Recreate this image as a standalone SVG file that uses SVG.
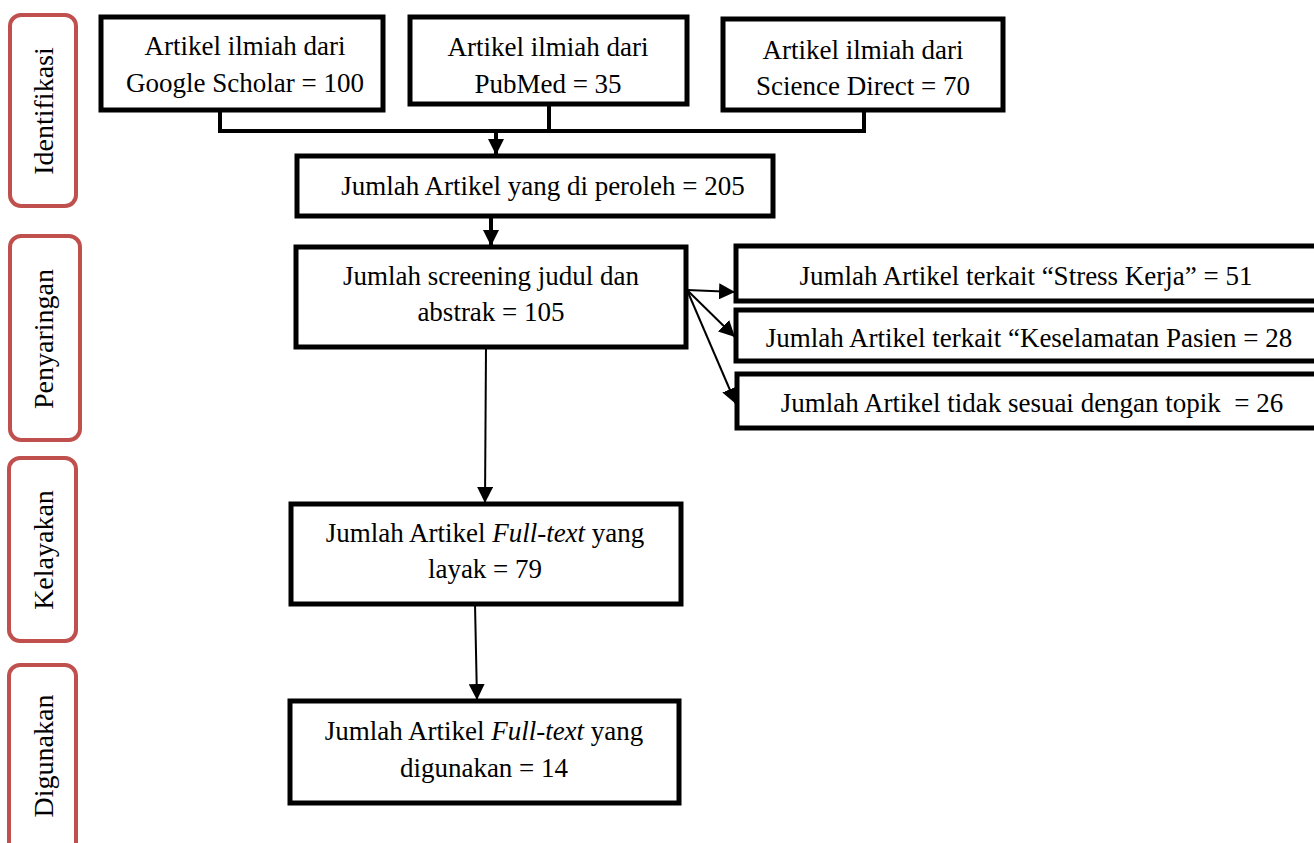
<svg xmlns="http://www.w3.org/2000/svg" width="1314" height="843" viewBox="0 0 1314 843">
<defs>
<style>
.box{fill:#fff;stroke:#000;stroke-width:5}
.side{fill:#fff;stroke:#C0504D;stroke-width:4}
.t{font-family:"Liberation Serif","Times New Roman",serif;font-size:27px;fill:#000;text-anchor:middle}
.s{font-family:"Liberation Serif","Times New Roman",serif;font-size:28px;fill:#000;text-anchor:middle}
.thick{fill:none;stroke:#000;stroke-width:4}
.thin{fill:none;stroke:#000;stroke-width:2}
</style>
<marker id="ah" viewBox="0 0 10 10" refX="10" refY="5" markerWidth="8" markerHeight="8" markerUnits="userSpaceOnUse" orient="auto">
<path d="M0,0 L10,5 L0,10 z" fill="#000"/>
</marker>
<marker id="ah2" viewBox="0 0 10 10" refX="10" refY="5" markerWidth="16" markerHeight="16" markerUnits="userSpaceOnUse" orient="auto">
<path d="M0,0 L10,5 L0,10 z" fill="#000"/>
</marker>
</defs>
<rect width="1314" height="843" fill="#fff"/>

<g id="stage-identifikasi">
<rect class="side" x="10" y="15" width="66" height="191" rx="11"/>
<text class="s" transform="translate(53,111) rotate(-90)">Identifikasi</text>
</g>
<g id="stage-penyaringan">
<rect class="side" x="10" y="236" width="70" height="204" rx="11"/>
<text class="s" transform="translate(53,339) rotate(-90)">Penyaringan</text>
</g>
<g id="stage-kelayakan">
<rect class="side" x="9" y="458" width="67" height="183" rx="11"/>
<text class="s" transform="translate(53,550) rotate(-90)">Kelayakan</text>
</g>
<g id="stage-digunakan">
<rect class="side" x="9" y="665" width="67" height="200" rx="11"/>
<text class="s" transform="translate(53,756) rotate(-90)">Digunakan</text>
</g>

<g id="connectors">
<path class="thick" d="M220,110 V131 H864 V110"/>
<path class="thick" d="M549,104 V131"/>
<path class="thick" d="M496,131 V155" marker-end="url(#ah2)"/>
<path class="thick" d="M491,217 V246" marker-end="url(#ah2)"/>
<path class="thin" d="M687,290 L735,292" marker-end="url(#ah2)"/>
<path class="thin" d="M687,290 L735,337" marker-end="url(#ah2)"/>
<path class="thin" d="M687,290 L736,404" marker-end="url(#ah2)"/>
<path class="thin" d="M486,347 L485,503" marker-end="url(#ah2)"/>
<path class="thin" d="M475,604 L477,700" marker-end="url(#ah2)"/>
</g>

<g id="node-google">
<rect class="box" x="101" y="17" width="282" height="93"/>
<text class="t" x="245" y="55">Artikel ilmiah dari</text>
<text class="t" x="245" y="92">Google Scholar = 100</text>
</g>
<g id="node-pubmed">
<rect class="box" x="410" y="17" width="277" height="87"/>
<text class="t" x="548" y="56">Artikel ilmiah dari</text>
<text class="t" x="548" y="93">PubMed = 35</text>
</g>
<g id="node-sciencedirect">
<rect class="box" x="723" y="19" width="280" height="91"/>
<text class="t" x="863" y="59">Artikel ilmiah dari</text>
<text class="t" x="863" y="95">Science Direct = 70</text>
</g>
<g id="node-total">
<rect class="box" x="297" y="156" width="476" height="60"/>
<text class="t" x="543" y="195">Jumlah Artikel yang di peroleh = 205</text>
</g>
<g id="node-screening">
<rect class="box" x="296" y="247" width="390" height="100"/>
<text class="t" x="491" y="285">Jumlah screening judul dan</text>
<text class="t" x="491" y="321">abstrak = 105</text>
</g>
<g id="node-stress">
<rect class="box" x="736" y="246" width="590" height="55"/>
<text class="t" x="1026" y="285">Jumlah Artikel terkait “Stress Kerja” = 51</text>
</g>
<g id="node-keselamatan">
<rect class="box" x="736" y="310" width="590" height="51"/>
<text class="t" x="1029" y="347">Jumlah Artikel terkait “Keselamatan Pasien = 28</text>
</g>
<g id="node-tidak">
<rect class="box" x="737" y="374" width="590" height="54"/>
<text class="t" x="1032" y="412" xml:space="preserve">Jumlah Artikel tidak sesuai dengan topik  = 26</text>
</g>
<g id="node-layak">
<rect class="box" x="291" y="504" width="390" height="100"/>
<text class="t" x="485" y="542">Jumlah Artikel <tspan font-style="italic">Full-text</tspan> yang</text>
<text class="t" x="485" y="578">layak = 79</text>
</g>
<g id="node-digunakan">
<rect class="box" x="290" y="701" width="389" height="102"/>
<text class="t" x="484" y="740">Jumlah Artikel <tspan font-style="italic">Full-text</tspan> yang</text>
<text class="t" x="484" y="777">digunakan = 14</text>
</g>
</svg>
